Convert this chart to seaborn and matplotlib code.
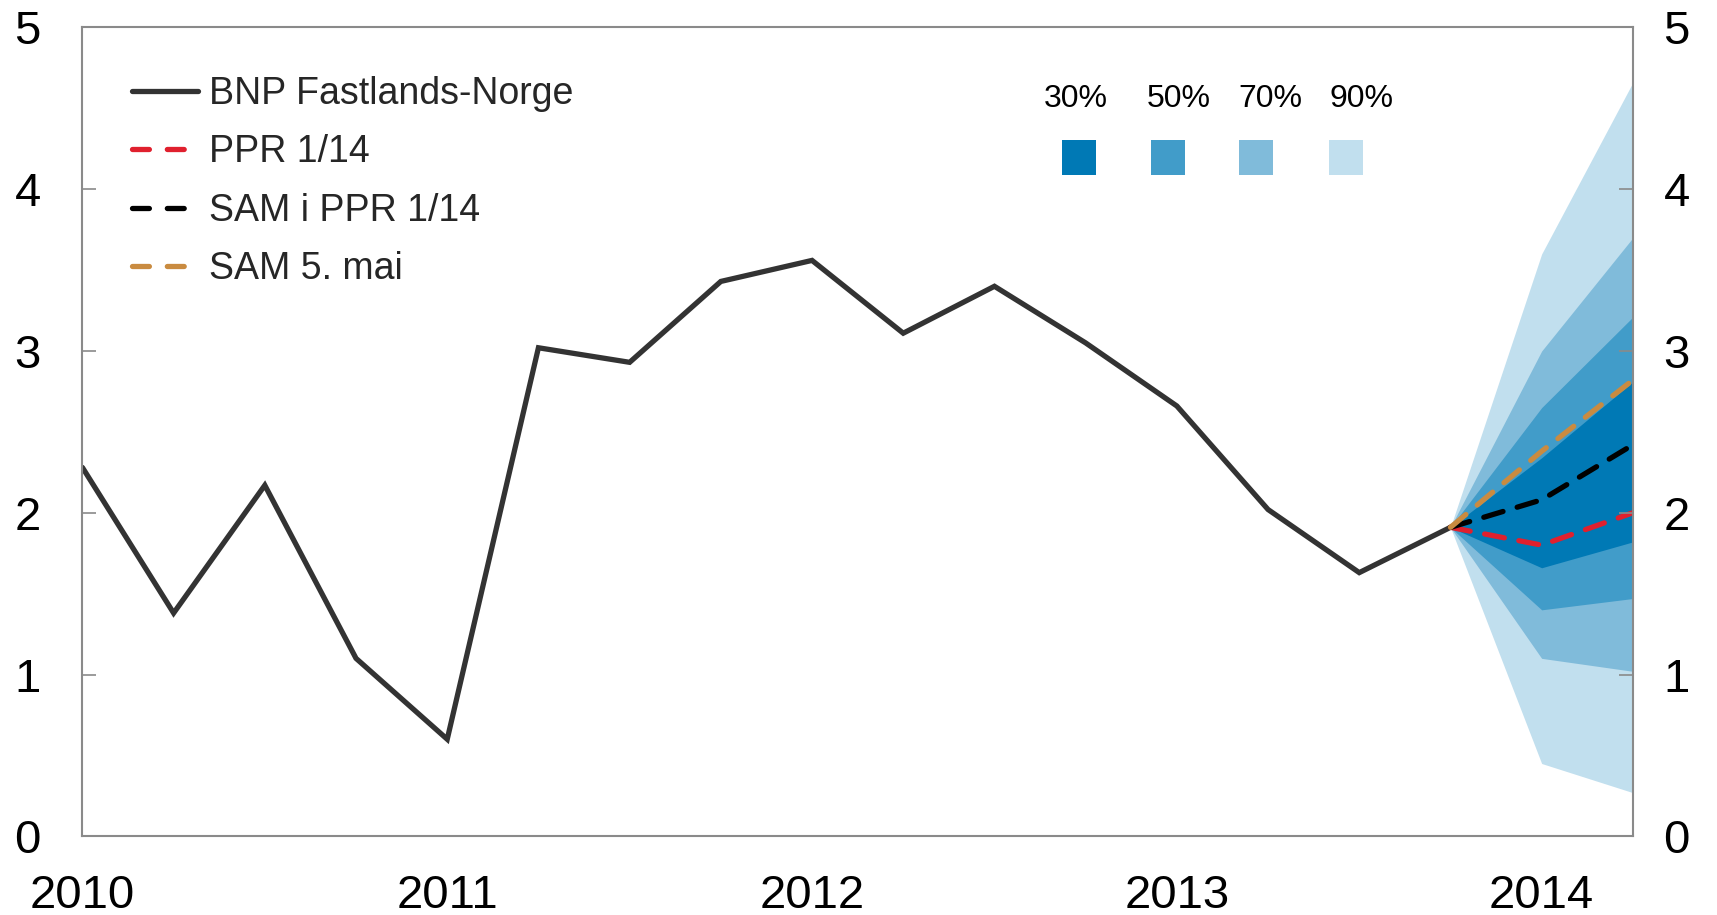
"""
BNP Fastlands-Norge with forecast fan chart (PPR 1/14 vs SAM).
"""

import numpy as np
import pandas as pd
import matplotlib
matplotlib.use("Agg")
import matplotlib.pyplot as plt
from matplotlib.lines import Line2D
from matplotlib.patches import Rectangle
import seaborn as sns

# ---------------------------------------------------------------------------
# Data
# ---------------------------------------------------------------------------
quarters = [2010.0, 2010.25, 2010.5, 2010.75,
            2011.0, 2011.25, 2011.5, 2011.75,
            2012.0, 2012.25, 2012.5, 2012.75,
            2013.0, 2013.25, 2013.5, 2013.75]
bnp = [2.28, 1.38, 2.17, 1.10,
       0.60, 3.02, 2.93, 3.43,
       3.56, 3.11, 3.40, 3.05,
       2.66, 2.02, 1.63, 1.91]

fc_quarters = [2013.75, 2014.0, 2014.25]
ppr = [1.91, 1.80, 2.00]
sam_ppr = [1.91, 2.08, 2.42]
sam_mai = [1.91, 2.38, 2.82]

band_labels = ["90%", "70%", "50%", "30%"]
band_lower = [[1.91, 0.45, 0.27],
              [1.91, 1.10, 1.02],
              [1.91, 1.40, 1.47],
              [1.91, 1.66, 1.82]]
band_upper = [[1.91, 3.60, 4.66],
              [1.91, 3.00, 3.70],
              [1.91, 2.65, 3.21],
              [1.91, 2.34, 2.81]]
band_colors = ["#C1DFEE", "#80BBDA", "#419CC9", "#0079B5"]

year_ticks = [2010, 2011, 2012, 2013, 2014]
y_ticks = [0, 1, 2, 3, 4, 5]

# ---------------------------------------------------------------------------
# Style
# ---------------------------------------------------------------------------
sns.set_theme(style="white")
plt.rcParams['font.family'] = ['Liberation Sans', 'DejaVu Sans']

spine_color = "#8a8a8a"
line_color = "#333333"
red = "#E0202E"
orange = "#C98B40"
lw = 3.8

fig = plt.figure(figsize=(17.17, 9.15), dpi=100)
ax = fig.add_axes([0.048, 0.086, 0.903, 0.884])

# Fan chart (widest band first)
for lo, hi, col in zip(band_lower, band_upper, band_colors):
    ax.fill_between(fc_quarters, lo, hi, color=col, linewidth=0)

# Historical series
hist = pd.DataFrame({"x": quarters, "y": bnp})
sns.lineplot(data=hist, x="x", y="y", ax=ax, color=line_color,
             linewidth=lw, solid_joinstyle="miter")

# Forecast paths
dash = (3.8, 2.8)
for vals, col in [(ppr, red), (sam_ppr, "black"), (sam_mai, orange)]:
    fc = pd.DataFrame({"x": fc_quarters, "y": vals})
    sns.lineplot(data=fc, x="x", y="y", ax=ax, color=col, linewidth=lw,
                 linestyle=(0, dash), dash_capstyle="round")

# Axes formatting
ax.set_xlim(2010, 2014.25)
ax.set_ylim(0, 5)
ax.set_xticks(year_ticks)
ax.set_xticklabels([str(y) for y in year_ticks])
ax.set_yticks(y_ticks)
ax.set_xlabel("")
ax.set_ylabel("")
for s in ax.spines.values():
    s.set_color(spine_color)
    s.set_linewidth(1.5)
ax.tick_params(axis="x", direction="in", length=10, width=1.2, color=spine_color,
               labelsize=34, pad=27, labelcolor="black")
ax.tick_params(axis="y", direction="in", length=10, width=1.2, color=spine_color,
               labelsize=34, pad=30, labelcolor="black")

ax2 = ax.twinx()
ax2.set_ylim(0, 5)
ax2.set_yticks(y_ticks)
for s in ax2.spines.values():
    s.set_visible(False)
ax2.tick_params(axis="y", direction="in", length=10, width=1.2, color=spine_color,
                labelsize=34, pad=22, labelcolor="black")
ax2.grid(False)

# Line legend
leg_dash = (0, (3.2, 3.4))
handles = [
    Line2D([], [], color=line_color, linewidth=lw, solid_capstyle="round"),
    Line2D([], [], color=red, linewidth=lw, linestyle=leg_dash, dash_capstyle="round"),
    Line2D([], [], color="black", linewidth=lw, linestyle=leg_dash, dash_capstyle="round"),
    Line2D([], [], color=orange, linewidth=lw, linestyle=leg_dash, dash_capstyle="round"),
]
labels = ["BNP Fastlands-Norge", "PPR 1/14", "SAM i PPR 1/14", "SAM 5. mai"]
ax.legend(handles, labels, loc="upper left", bbox_to_anchor=(0.032, 0.94),
          frameon=False, fontsize=27, handlelength=1.75, handletextpad=0.3,
          labelspacing=0.6, borderpad=0, borderaxespad=0)

# Fan legend
sq_x = [0.632, 0.689, 0.746, 0.804]
lab_x = [0.641, 0.707, 0.766, 0.825]
sq_w, sq_h, sq_y = 0.0219, 0.0434, 0.817
for x0, xl, lab, col in zip(sq_x, lab_x, band_labels[::-1], band_colors[::-1]):
    ax.add_patch(Rectangle((x0, sq_y), sq_w, sq_h, transform=ax.transAxes,
                           facecolor=col, edgecolor="none", clip_on=False))
    ax.text(xl, 0.912, lab, transform=ax.transAxes,
            ha="center", va="center", fontsize=23, color="black")

plt.savefig("out.png", dpi=100)
plt.close()
